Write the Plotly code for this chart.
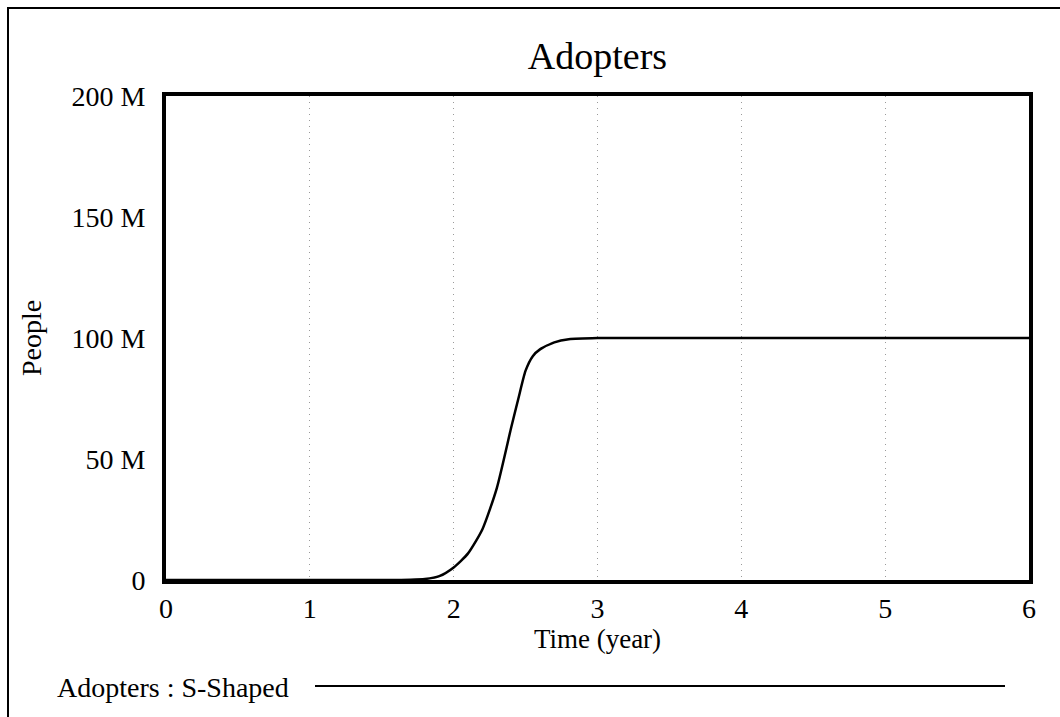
import plotly.graph_objects as go

# Valores (Adopters : S-Shaped)
time_years = [0, 0.5, 1, 1.5, 1.7, 1.8, 1.9, 2.0, 2.1, 2.2, 2.3, 2.4, 2.45,
              2.5, 2.55, 2.6, 2.7, 2.8, 3, 3.5, 4, 5, 6]
adopters_m = [0, 0, 0, 0, 0.1, 0.4, 1.6, 5.2, 11, 21, 38, 63, 75,
              86.5, 92.5, 95.3, 98.2, 99.5, 100, 100, 100, 100, 100]
adopters = [v * 1e6 for v in adopters_m]

y_ticks = [0, 50e6, 100e6, 150e6, 200e6]
y_labels = ['0', '50 M', '100 M', '150 M', '200 M']
x_ticks = [0, 1, 2, 3, 4, 5, 6]
x_labels = ['0', '1', '2', '3', '4', '5', '6']

serif = 'Liberation Serif, Times New Roman, serif'

fig = go.Figure()
fig.add_trace(go.Scatter(x=time_years, y=adopters, mode='lines',
                         line=dict(color='black', width=2.5, shape='spline', smoothing=0.6),
                         name='Adopters : S-Shaped', showlegend=False))

fig.update_layout(
    width=1060, height=717,
    margin=dict(l=166, r=31, t=96, b=137),
    paper_bgcolor='white', plot_bgcolor='white',
    font=dict(family=serif, color='black', size=28),
    title=dict(text='Adopters', x=0.5, xref='paper', y=1 - 56 / 717, yanchor='middle',
               font=dict(size=38, family=serif)),
)

fig.update_xaxes(range=[0, 6], tickvals=x_ticks, ticktext=x_labels,
                 showline=True, mirror=True, linecolor='black', linewidth=4,
                 showgrid=True, gridcolor='#9a9a9a', griddash='1px,5px', gridwidth=1,
                 zeroline=False, ticks='', ticklabelstandoff=0,
                 title=dict(text='Time (year)', font=dict(size=27), standoff=2))
fig.update_yaxes(range=[0, 200e6], tickvals=y_ticks, ticktext=y_labels,
                 showline=True, mirror=True, linecolor='black', linewidth=4,
                 showgrid=False, zeroline=False, ticks='', ticklabelstandoff=11,
                 title=dict(text='People', font=dict(size=28), standoff=23))

# marco exterior
fig.add_shape(type='rect', xref='paper', yref='paper',
              x0=(8 - 166) / 863, x1=1.1, y0=-0.6, y1=(580 - 8) / 484,
              line=dict(color='black', width=2), layer='below')

# leyenda estilo Vensim
fig.add_annotation(text='Adopters : S-Shaped', xref='paper', yref='paper',
                   x=(55 - 166) / 863, y=(580 - 687) / 484, xanchor='left', yanchor='middle',
                   showarrow=False, font=dict(size=28, family=serif))
fig.add_shape(type='line', xref='paper', yref='paper',
              x0=(315 - 166) / 863, x1=(1005 - 166) / 863,
              y0=(580 - 686) / 484, y1=(580 - 686) / 484,
              line=dict(color='black', width=2))

fig.write_html("out.html", config={'displayModeBar': False},
               post_script="document.body.style.margin='0';")
